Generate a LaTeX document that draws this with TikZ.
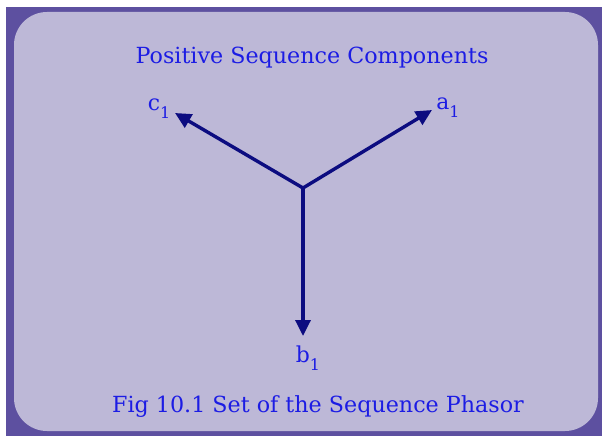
\documentclass[tikz,border=0pt]{standalone}
\usepackage{fontspec}
\setmainfont{DejaVu Serif}
\usepackage{xcolor}
\usetikzlibrary{arrows.meta}
\definecolor{frame}{HTML}{5D50A0}
\definecolor{panel}{HTML}{BDB8D7}
\definecolor{txt}{HTML}{1C1CE4}
\definecolor{navy}{HTML}{0C0C80}
\tikzset{
  phasor/.style={
    line width=3.4bp,
    draw=navy,
    -{Triangle[length=16bp,width=15bp]}
  },
  heading/.style={
    font=\fontsize{22.3}{26}\selectfont,
    text=txt
  },
  plabel/.style={
    font=\fontsize{22}{26}\selectfont,
    text=txt,
    inner sep=0pt
  }
}
\newcommand{\sub}[2]{#1\raisebox{-0.7ex}{\fontsize{16}{16}\selectfont #2}}

\begin{document}
\begin{tikzpicture}[x=1bp,y=-1bp]

% Background
\useasboundingbox (0,0) rectangle (602,436);
\fill[white] (0,0) rectangle (602,436);
\fill[frame] (6,7) rectangle (602,436);
\fill[panel, rounded corners=33bp] (14,12) rectangle (598,431);

% Title
\node[heading] (title) at (312,58) {Positive Sequence Components};

% Phasors
\coordinate (o) at (303,188);
\coordinate (ta) at (432,110);
\coordinate (tb) at (303,336);
\coordinate (tc) at (175,113);

\draw[phasor] (o) -- (ta);
\draw[phasor] (o) -- (tb);
\draw[phasor] (o) -- (tc);

\node[plabel] (a1) at (448,108) {\sub{a}{1}};
\node[plabel] (b1) at (308,358) {\sub{b}{1}};
\node[plabel] (c1) at (159,109) {\sub{c}{1}};

% Caption
\node[heading] (caption) at (318,407) {Fig 10.1 Set of the Sequence Phasor};

\end{tikzpicture}
\end{document}
